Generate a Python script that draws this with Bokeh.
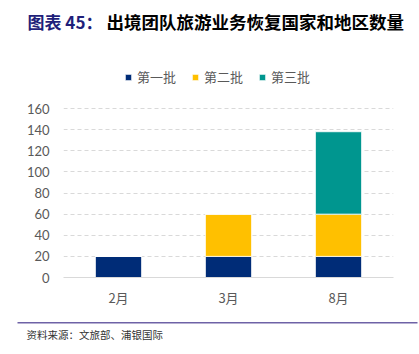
from bokeh.plotting import figure
from bokeh.layouts import column
from bokeh.models import (ColumnDataSource, FactorRange, Range1d, FixedTicker, Label,
                          Legend, LegendItem, BoxAnnotation)
from bokeh.embed import file_html
from bokeh.resources import INLINE

months = ["2月", "3月", "8月"]
batch1 = [20, 20, 20]
batch2 = [0, 40, 40]
batch3 = [0, 0, 78]
series_names = ["第一批", "第二批", "第三批"]
colors = ["#002C77", "#FFC000", "#00968F"]
y_ticks = [0, 20, 40, 60, 80, 100, 120, 140, 160]

title_prefix = "图表 45："
title_main = "出境团队旅游业务恢复国家和地区数量"
source_note = "资料来源：文旅部、浦银国际"

W = 419
HEAD_H, CHART_H, FOOT_H = 45, 267, 42
FL, FR = 63, 393          # chart frame left/right (px)
Y0_PX, Y160_PX = 232, 63  # y=0 and y=160 positions inside chart figure (from its top)
y_end = 160 * Y0_PX / (Y0_PX - Y160_PX)


def blank(h):
    f = figure(width=W, height=h, x_range=Range1d(0, W), y_range=Range1d(0, h),
               output_backend="svg", toolbar_location=None,
               x_axis_location=None, y_axis_location=None,
               min_border_left=0, min_border_right=0, min_border_top=0, min_border_bottom=0)
    f.frame_align = False
    f.outline_line_color = None
    f.xgrid.visible = False
    f.ygrid.visible = False
    f.background_fill_color = "white"
    f.border_fill_color = "white"
    return f


# ---- title ----
head = blank(HEAD_H)
head.add_layout(Label(x=27, y=HEAD_H - 20.5, x_units="screen", y_units="screen",
                      text=title_prefix, text_font="Noto Sans CJK SC",
                      text_font_style="bold", text_font_size="17px",
                      text_color="#1F1F7A", text_baseline="middle"))
head.add_layout(Label(x=106, y=HEAD_H - 20.5, x_units="screen", y_units="screen",
                      text=title_main, text_font="Noto Sans CJK SC",
                      text_font_style="bold", text_font_size="17.5px",
                      text_color="#000000", text_baseline="middle"))

# ---- chart ----
src = ColumnDataSource(dict(month=months, b1=batch1, b2=batch2, b3=batch3))
p = figure(width=W, height=CHART_H, x_range=FactorRange(*months, range_padding=0),
           y_range=Range1d(0, y_end), output_backend="svg", toolbar_location=None,
           min_border_left=FL, min_border_right=W - FR, min_border_top=0,
           min_border_bottom=CHART_H - Y0_PX)
p.frame_align = False
p.outline_line_color = None
p.background_fill_color = "white"
p.border_fill_color = "white"

rs = p.vbar_stack(["b1", "b2", "b3"], x="month", width=0.42, source=src,
                  color=colors, line_color="white", line_width=0.8)

p.yaxis.ticker = FixedTicker(ticks=y_ticks)
p.yaxis.axis_line_color = None
p.yaxis.major_tick_line_color = None
p.yaxis.major_tick_out = 0
p.yaxis.major_tick_in = 0
p.yaxis.minor_tick_line_color = None
p.yaxis.major_label_standoff = 14
p.yaxis.major_label_text_color = "#595959"
p.yaxis.major_label_text_font = "Lato"
p.yaxis.major_label_text_font_size = "13px"

p.xaxis.axis_line_color = "#D9D9D9"
p.xaxis.axis_line_width = 1
p.xaxis.major_tick_line_color = None
p.xaxis.major_tick_out = 0
p.xaxis.major_tick_in = 0
p.xaxis.minor_tick_line_color = None
p.xaxis.major_label_standoff = 10
p.xaxis.major_label_text_color = "#595959"
p.xaxis.major_label_text_font = "Noto Sans CJK SC"
p.xaxis.major_label_text_font_size = "13px"

p.xgrid.grid_line_color = None
p.ygrid.grid_line_color = "#D9D9D9"
p.ygrid.grid_line_dash = "4 3"

legend = Legend(items=[LegendItem(label=n, renderers=[r]) for n, r in zip(series_names, rs)],
                orientation="horizontal",
                location=(124 - FL, Y0_PX - (86 - HEAD_H)),
                glyph_width=8, glyph_height=8, label_standoff=5, spacing=15,
                padding=0, margin=0, border_line_color=None, background_fill_alpha=0,
                label_text_color="#595959", label_text_font="Noto Sans CJK SC",
                label_text_font_size="13px")
p.add_layout(legend, "center")

# ---- footer ----
foot = blank(FOOT_H)
foot.add_layout(BoxAnnotation(left=17, right=417, top=FOOT_H - 9.5, bottom=FOOT_H - 11,
                              left_units="screen", right_units="screen",
                              top_units="screen", bottom_units="screen",
                              fill_color="#6E62A6", fill_alpha=1, line_color=None))
foot.add_layout(Label(x=26, y=FOOT_H - 22, x_units="screen", y_units="screen",
                      text=source_note, text_font="Noto Sans CJK SC",
                      text_font_size="10.5px", text_color="#333333",
                      text_baseline="middle"))

layout = column(head, p, foot, spacing=0)
open("out.html", "w").write(file_html(layout, INLINE))
